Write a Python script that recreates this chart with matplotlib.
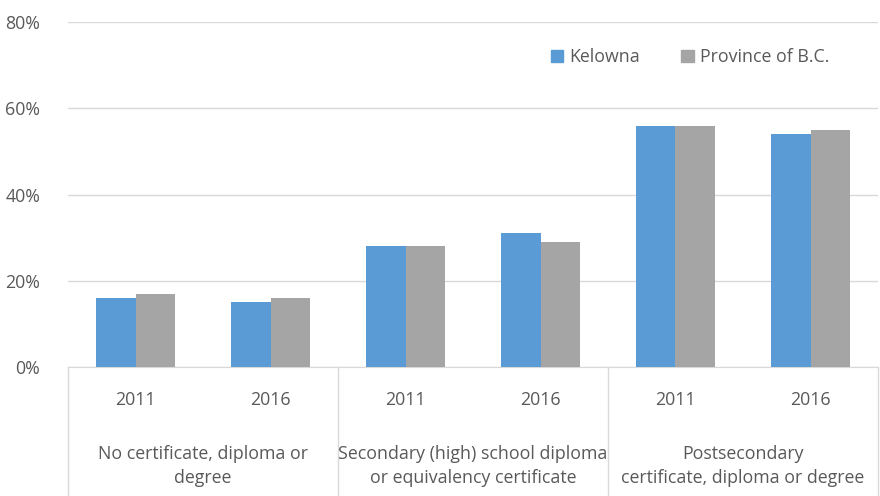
import numpy as np
import matplotlib.pyplot as plt
from matplotlib.transforms import blended_transform_factory
from matplotlib.patches import Patch

years = ['2011', '2016', '2011', '2016', '2011', '2016']
groups = ['No certificate, diploma or\ndegree',
          'Secondary (high) school diploma\nor equivalency certificate',
          'Postsecondary\ncertificate, diploma or degree']
kelowna = [16, 15, 28, 31, 56, 54]
province = [17, 16, 28, 29, 56, 55]

blue = '#5B9BD5'
grey = '#A5A5A5'
txt = '#595959'
line = '#D9D9D9'
fs = 12.8

plt.rcParams['font.family'] = ['Open Sans', 'DejaVu Sans']

fig = plt.figure(figsize=(8.8, 4.96), dpi=100)
ax = fig.add_axes([68/880, 1-367/496, 810/880, 345/496])

x = np.arange(len(years))
w = 0.29
ax.bar(x - w/2, kelowna, w, color=blue, zorder=3)
ax.bar(x + w/2, province, w, color=grey, zorder=3)

ax.set_xlim(-0.5, 5.5)
ax.set_ylim(0, 80)
ax.set_yticks(range(0, 81, 20))
ax.set_yticklabels([f'{v}%' for v in range(0, 81, 20)], color=txt, fontsize=fs)
ax.yaxis.grid(True, color=line, linewidth=1, zorder=0)
ax.tick_params(axis='y', length=0, pad=20)
ax.set_xticks([])
for s in ['top', 'right', 'left']:
    ax.spines[s].set_visible(False)
ax.spines['bottom'].set_color(line)

tr = blended_transform_factory(ax.transData, fig.transFigure)
for sx in [-0.5, 1.5, 3.5, 5.5]:
    ax.plot([sx, sx], [1-367/496, 0], color=line, lw=1, transform=tr, clip_on=False)
for i, yr in enumerate(years):
    ax.text(i, 1-400/496, yr, transform=tr, ha='center', va='center', color=txt, fontsize=fs)
for i, g in enumerate(groups):
    ax.text(2*i + 0.5, 1-466/496, g, transform=tr, ha='center', va='center', color=txt,
            fontsize=fs, linespacing=1.38)

handles = [Patch(color=blue, label='Kelowna'), Patch(color=grey, label='Province of B.C.')]
fig.legend(handles=handles, loc='center left', bbox_to_anchor=(535/880, 1-57/496), ncol=2,
           frameon=False, fontsize=fs, labelcolor=txt, handlelength=0.7, handleheight=0.7,
           handletextpad=0.35, columnspacing=2.3)

fig.savefig('out.png', dpi=100)
